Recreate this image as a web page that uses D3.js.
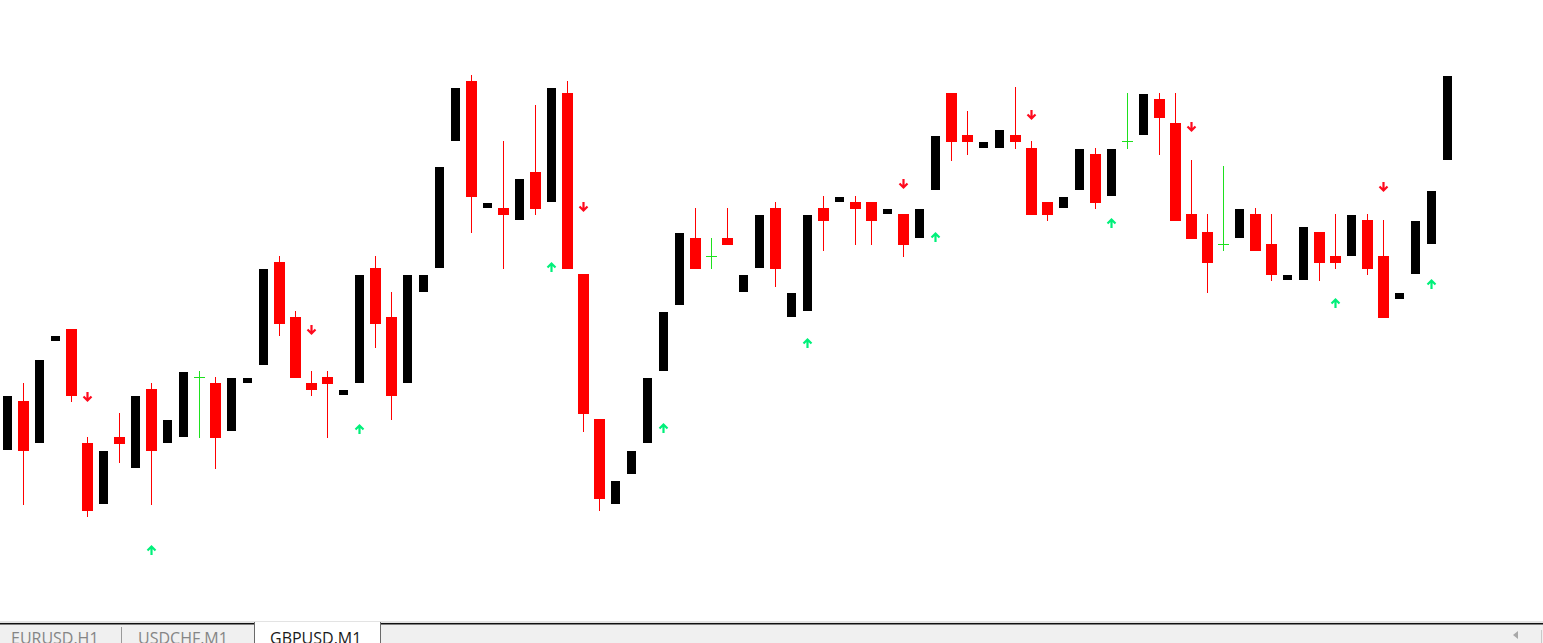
<!DOCTYPE html>
<html>
<head>
<meta charset="utf-8">
<script src="https://cdn.jsdelivr.net/npm/d3@7"></script>
<style>
  html, body { margin: 0; padding: 0; background: #fff; overflow: hidden; }
  svg { display: block; }
</style>
</head>
<body>
<script>

// GBPUSD M1 bars, oldest first
var openPrices = [
  1.30150,1.30199,1.30157,1.30259,1.30271,1.30157,1.30096,1.30163,1.30132,1.30211,
  1.30157,1.30163,1.30223,1.30217,1.30169,1.30217,1.30235,1.30338,1.30283,1.30217,
  1.30223,1.30205,1.30217,1.30332,1.30283,1.30217,1.30308,1.30332,1.30459,1.30519,
  1.30392,1.30392,1.30380,1.30428,1.30398,1.30507,1.30326,1.30181,1.30096,1.30126,
  1.30157,1.30229,1.30295,1.30362,1.30344,1.30362,1.30308,1.30332,1.30392,1.30283,
  1.30289,1.30392,1.30398,1.30398,1.30398,1.30386,1.30386,1.30362,1.30410,1.30507,
  1.30465,1.30452,1.30452,1.30465,1.30452,1.30398,1.30392,1.30410,1.30446,1.30404,
  1.30459,1.30465,1.30501,1.30477,1.30386,1.30368,1.30356,1.30362,1.30386,1.30356,
  1.30320,1.30320,1.30368,1.30344,1.30344,1.30380,1.30344,1.30301,1.30326,1.30356,
  1.30440
];
var highPrices = [
  1.30204,1.30217,1.30240,1.30264,1.30271,1.30163,1.30149,1.30187,1.30204,1.30217,
  1.30180,1.30228,1.30229,1.30223,1.30222,1.30222,1.30331,1.30344,1.30289,1.30229,
  1.30229,1.30210,1.30325,1.30344,1.30308,1.30325,1.30325,1.30433,1.30512,1.30525,
  1.30397,1.30459,1.30421,1.30495,1.30512,1.30519,1.30326,1.30181,1.30119,1.30149,
  1.30222,1.30288,1.30367,1.30392,1.30362,1.30392,1.30325,1.30385,1.30398,1.30307,
  1.30385,1.30404,1.30403,1.30404,1.30398,1.30391,1.30386,1.30391,1.30464,1.30507,
  1.30489,1.30458,1.30470,1.30513,1.30459,1.30398,1.30403,1.30451,1.30452,1.30451,
  1.30507,1.30506,1.30507,1.30507,1.30440,1.30386,1.30434,1.30391,1.30392,1.30386,
  1.30325,1.30373,1.30368,1.30386,1.30385,1.30386,1.30380,1.30307,1.30379,1.30409,
  1.30524
];
var lowPrices = [
  1.30150,1.30095,1.30157,1.30259,1.30198,1.30083,1.30096,1.30137,1.30132,1.30095,
  1.30157,1.30163,1.30162,1.30131,1.30169,1.30217,1.30235,1.30264,1.30222,1.30204,
  1.30162,1.30205,1.30217,1.30252,1.30180,1.30217,1.30308,1.30332,1.30459,1.30367,
  1.30392,1.30331,1.30380,1.30385,1.30398,1.30331,1.30168,1.30089,1.30096,1.30126,
  1.30157,1.30229,1.30295,1.30331,1.30331,1.30355,1.30308,1.30332,1.30313,1.30283,
  1.30289,1.30349,1.30398,1.30355,1.30355,1.30386,1.30343,1.30362,1.30410,1.30439,
  1.30445,1.30452,1.30452,1.30451,1.30385,1.30379,1.30392,1.30410,1.30391,1.30404,
  1.30451,1.30465,1.30445,1.30379,1.30361,1.30307,1.30349,1.30362,1.30349,1.30319,
  1.30320,1.30320,1.30319,1.30331,1.30344,1.30325,1.30282,1.30301,1.30326,1.30356,
  1.30440
];
var closePrices = [
  1.30204,1.30149,1.30240,1.30264,1.30204,1.30089,1.30149,1.30156,1.30204,1.30149,
  1.30180,1.30228,1.30223,1.30162,1.30222,1.30222,1.30331,1.30276,1.30222,1.30210,
  1.30216,1.30210,1.30325,1.30276,1.30204,1.30325,1.30325,1.30433,1.30512,1.30403,
  1.30397,1.30385,1.30421,1.30391,1.30512,1.30331,1.30186,1.30101,1.30119,1.30149,
  1.30222,1.30288,1.30367,1.30331,1.30344,1.30355,1.30325,1.30385,1.30331,1.30307,
  1.30385,1.30379,1.30403,1.30391,1.30379,1.30391,1.30355,1.30391,1.30464,1.30458,
  1.30458,1.30458,1.30470,1.30458,1.30385,1.30385,1.30403,1.30451,1.30397,1.30451,
  1.30459,1.30506,1.30482,1.30379,1.30361,1.30337,1.30356,1.30391,1.30349,1.30325,
  1.30325,1.30373,1.30337,1.30337,1.30385,1.30331,1.30282,1.30307,1.30379,1.30409,
  1.30524
];

// signal arrows: bar index and price level
var buyBars   = [9, 22, 34, 41, 50, 58, 69, 83, 89];
var buyLevels = [1.30050, 1.30171, 1.30333, 1.30172, 1.30257, 1.30363, 1.30377, 1.30297, 1.30316];
var sellBars   = [5, 19, 36, 56, 64, 74, 86];
var sellLevels = [1.30203, 1.30270, 1.30393, 1.30416, 1.30485, 1.30473, 1.30413];

var tabLabels = ['EURUSD,H1', 'USDCHF,M1', 'GBPUSD,M1'];
var activeTab = 2;

window.onload = function() {

  var width = 1543, height = 643;

  var svg = d3.select('body').append('svg')
    .attr('width', width)
    .attr('height', height);

  // one bar every 16px, price 0.00001 per pixel
  var x = d3.scaleLinear().domain([0, openPrices.length - 1]).range([7.5, 7.5 + 16 * (openPrices.length - 1)]);
  var y = d3.scaleLinear().domain([1.30000, 1.30600]).range([600, 0]);
  var py = function(v) { return Math.round(y(v)); };

  var bars = openPrices.map(function(o, i) {
    return { i: i, o: o, h: highPrices[i], l: lowPrices[i], c: closePrices[i] };
  });

  var kind = function(d) {
    if (d.c > d.o) return 'up';
    if (d.c < d.o) return 'down';
    return 'doji';
  };
  var barColor = { up: '#000000', down: '#ff0000', doji: '#1ee01e' };

  var g = svg.append('g');

  // wicks (bull bars have none visible)
  g.selectAll('rect.wick')
    .data(bars.filter(function(d) { return kind(d) !== 'up'; }))
    .enter().append('rect')
    .attr('class', 'wick')
    .attr('x', function(d) { return Math.floor(x(d.i)); })
    .attr('y', function(d) { return py(d.h); })
    .attr('width', 1)
    .attr('height', function(d) { return Math.max(1, py(d.l) - py(d.h)); })
    .attr('fill', function(d) { return barColor[kind(d)]; });

  // bodies
  g.selectAll('rect.body')
    .data(bars)
    .enter().append('rect')
    .attr('class', 'body')
    .attr('x', function(d) { return x(d.i) - (kind(d) === 'up' ? 4.5 : 5.5); })
    .attr('y', function(d) { return py(Math.max(d.o, d.c)); })
    .attr('width', function(d) { return kind(d) === 'up' ? 9 : 11; })
    .attr('height', function(d) { return Math.max(1, py(Math.min(d.o, d.c)) - py(Math.max(d.o, d.c))); })
    .attr('fill', function(d) { return barColor[kind(d)]; });

  // arrows
  var buys = buyBars.map(function(b, k) { return { i: b, v: buyLevels[k] }; });
  var sells = sellBars.map(function(b, k) { return { i: b, v: sellLevels[k] }; });

  g.selectAll('path.buy')
    .data(buys)
    .enter().append('path')
    .attr('class', 'buy')
    .attr('d', function(d) {
      var cx = x(d.i), cy = py(d.v);
      return 'M' + (cx - 4) + ',' + (cy + 0.5) + 'L' + cx + ',' + (cy - 3.5) + 'L' + (cx + 4) + ',' + (cy + 0.5) +
             'M' + cx + ',' + (cy - 3.5) + 'L' + cx + ',' + (cy + 5);
    })
    .attr('fill', 'none')
    .attr('stroke', '#00f07a')
    .attr('stroke-width', 2.2);

  g.selectAll('path.sell')
    .data(sells)
    .enter().append('path')
    .attr('class', 'sell')
    .attr('d', function(d) {
      var cx = x(d.i), cy = py(d.v);
      return 'M' + (cx - 4) + ',' + (cy - 0.5) + 'L' + cx + ',' + (cy + 3.5) + 'L' + (cx + 4) + ',' + (cy - 0.5) +
             'M' + cx + ',' + (cy + 3.5) + 'L' + cx + ',' + (cy - 5);
    })
    .attr('fill', 'none')
    .attr('stroke', '#ff0a1e')
    .attr('stroke-width', 2.2);

  // tab strip at the bottom
  var tabX = [0, 121, 254, 380];
  var tabs = svg.append('g');

  tabs.append('rect').attr('x', 0).attr('y', 621).attr('width', width).attr('height', 2).attr('fill', '#e3e3e3');
  tabs.append('rect').attr('x', 0).attr('y', 623).attr('width', width).attr('height', 20).attr('fill', '#f0f0f0');
  tabs.append('rect').attr('x', 0).attr('y', 623).attr('width', tabX[2]).attr('height', 1.5).attr('fill', '#111');
  tabs.append('rect').attr('x', tabX[3]).attr('y', 623).attr('width', width - tabX[3]).attr('height', 1.5).attr('fill', '#111');

  // active tab
  tabs.append('rect')
    .attr('x', tabX[activeTab]).attr('y', 622)
    .attr('width', tabX[activeTab + 1] - tabX[activeTab]).attr('height', 21)
    .attr('fill', '#ffffff');
  tabs.append('rect').attr('x', tabX[activeTab]).attr('y', 622).attr('width', 1).attr('height', 21).attr('fill', '#6a6a6a');
  tabs.append('rect').attr('x', tabX[activeTab + 1]).attr('y', 622).attr('width', 1).attr('height', 21).attr('fill', '#6a6a6a');

  // separator between inactive tabs
  tabs.append('rect').attr('x', tabX[1]).attr('y', 627).attr('width', 1).attr('height', 16).attr('fill', '#9a9a9a');

  tabs.selectAll('text')
    .data(tabLabels)
    .enter().append('text')
    .attr('x', function(d, i) { return tabX[i] + (i === 0 ? 11 : 17 - (i === 2 ? 1 : 0)); })
    .attr('y', 644)
    .attr('font-family', '"Open Sans", sans-serif')
    .attr('font-size', 16)
    .attr('fill', function(d, i) { return i === activeTab ? '#1a1a1a' : '#858585'; })
    .text(function(d) { return d; });

  // scroll arrow at the right end
  tabs.append('path')
    .attr('d', 'M1518,631L1513,635L1518,639Z')
    .attr('fill', '#a8a8a8');
  tabs.append('rect').attr('x', 1541).attr('y', 630).attr('width', 1).attr('height', 13).attr('fill', '#c8c8c8');
};

</script>
</body>
</html>
